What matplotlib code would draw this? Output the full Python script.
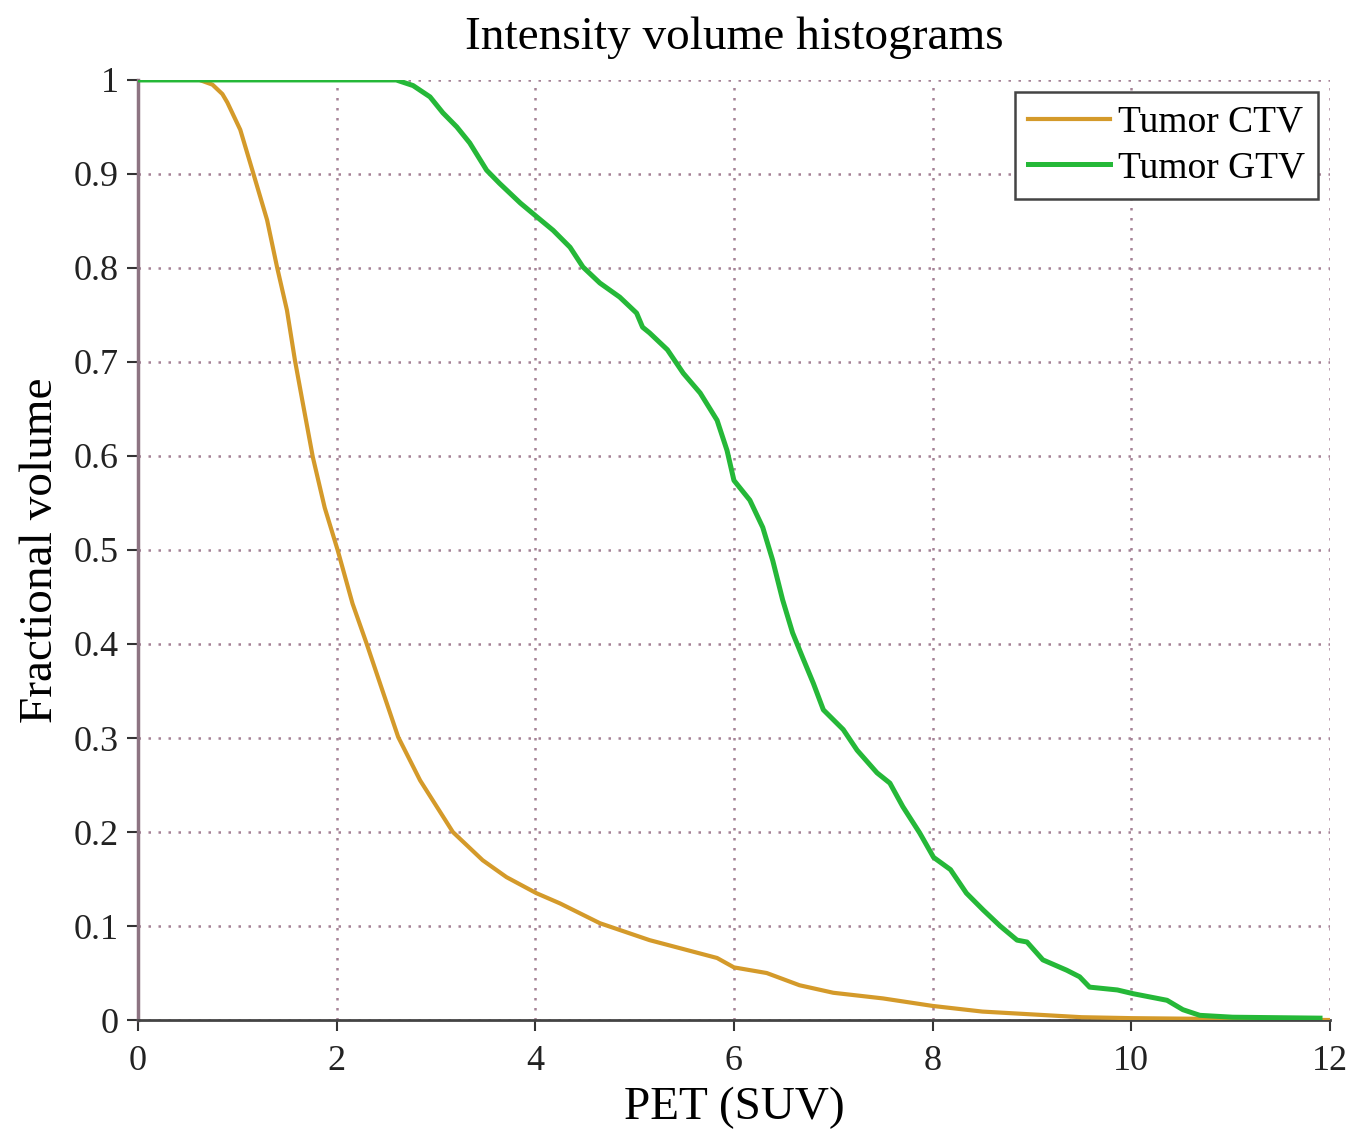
import matplotlib.pyplot as plt

ctv_suv = [0.0, 0.62, 0.75, 0.85, 0.90, 1.03, 1.16, 1.30, 1.40, 1.50, 1.58, 1.66, 1.76, 1.88,
           2.01, 2.16, 2.30, 2.45, 2.62, 2.84, 3.17, 3.47, 3.71, 4.01, 4.25, 4.65,
           5.15, 5.83, 6.00, 6.33, 6.66, 7.00, 7.50, 8.00, 8.50, 9.00, 9.50, 10.00, 11.00, 12.00]
ctv_vol = [1.0, 1.0, 0.995, 0.985, 0.976, 0.947, 0.901, 0.851, 0.801, 0.755, 0.702, 0.656, 0.599, 0.545,
           0.500, 0.443, 0.401, 0.354, 0.301, 0.255, 0.200, 0.170, 0.152, 0.135, 0.124, 0.103,
           0.085, 0.066, 0.056, 0.050, 0.037, 0.029, 0.023, 0.015, 0.009, 0.006, 0.003, 0.002, 0.001, 0.0]

gtv_suv = [0.0, 2.60, 2.77, 2.94, 3.07, 3.21, 3.34, 3.51, 3.64, 3.85, 4.02, 4.18, 4.35,
           4.48, 4.65, 4.85, 5.02, 5.08, 5.15, 5.33, 5.49, 5.66, 5.83, 5.93, 6.00,
           6.16, 6.29, 6.39, 6.49, 6.59, 6.69, 6.80, 6.90, 7.10, 7.24, 7.44, 7.57,
           7.70, 7.87, 8.01, 8.18, 8.34, 8.51, 8.68, 8.85, 8.95, 9.11, 9.35, 9.48,
           9.58, 9.86, 10.02, 10.36, 10.52, 10.69, 11.02, 11.90]
gtv_vol = [1.0, 1.0, 0.994, 0.982, 0.965, 0.950, 0.933, 0.904, 0.890, 0.869, 0.854, 0.840, 0.822,
           0.801, 0.784, 0.769, 0.752, 0.737, 0.731, 0.713, 0.688, 0.667, 0.638, 0.606, 0.574,
           0.553, 0.524, 0.489, 0.447, 0.412, 0.386, 0.358, 0.330, 0.309, 0.287, 0.263, 0.252,
           0.227, 0.199, 0.173, 0.160, 0.135, 0.117, 0.100, 0.085, 0.083, 0.064, 0.053, 0.046,
           0.035, 0.032, 0.028, 0.021, 0.011, 0.005, 0.003, 0.002]

x_ticks = [0, 2, 4, 6, 8, 10, 12]
y_ticks = [0, 0.1, 0.2, 0.3, 0.4, 0.5, 0.6, 0.7, 0.8, 0.9, 1]
y_labels = ['0', '0.1', '0.2', '0.3', '0.4', '0.5', '0.6', '0.7', '0.8', '0.9', '1']

plt.rcParams['font.family'] = ['Liberation Serif', 'DejaVu Serif']

fig = plt.figure(figsize=(13.66, 11.34), dpi=100)
ax = fig.add_axes([0.101, 0.1005, 0.8726, 0.829])

ax.plot(ctv_suv, ctv_vol, color='#d49a2a', lw=3.0, label='Tumor CTV', zorder=3,
        solid_joinstyle='round')
ax.plot(gtv_suv, gtv_vol, color='#25b838', lw=3.6, label='Tumor GTV', zorder=4,
        solid_joinstyle='round')

ax.set_xlim(0, 12)
ax.set_ylim(0, 1)
ax.set_xticks(x_ticks)
ax.set_yticks(y_ticks)
ax.set_yticklabels(y_labels)
ax.tick_params(labelsize=26, direction='out', length=8, width=1.5, colors='#333333',
               labelcolor='#222222')
ax.tick_params(axis='x', pad=10)
ax.tick_params(axis='y', pad=6)

ax.grid(True, linestyle=(0, (1, 3)), color='#a58296', linewidth=1.8)
ax.set_axisbelow(True)

for side in ['top', 'right']:
    ax.spines[side].set_visible(False)
ax.spines['left'].set_color('#8d7482')
ax.spines['left'].set_linewidth(2.5)
ax.spines['bottom'].set_color('#444444')
ax.spines['bottom'].set_linewidth(2)

ax.set_xlabel('PET (SUV)', fontsize=34, labelpad=6)
ax.set_ylabel('Fractional volume', fontsize=34, labelpad=8)
ax.set_title('Intensity volume histograms', fontsize=34, pad=22)

leg = ax.legend(loc='upper right', fontsize=27, handlelength=2.2, handletextpad=0.2,
                borderpad=0.35, labelspacing=0.3, fancybox=False, framealpha=1,
                edgecolor='#444444', borderaxespad=0, bbox_to_anchor=(0.99, 0.987))
leg.get_frame().set_linewidth(1.8)

fig.savefig('out.png', dpi=100)
